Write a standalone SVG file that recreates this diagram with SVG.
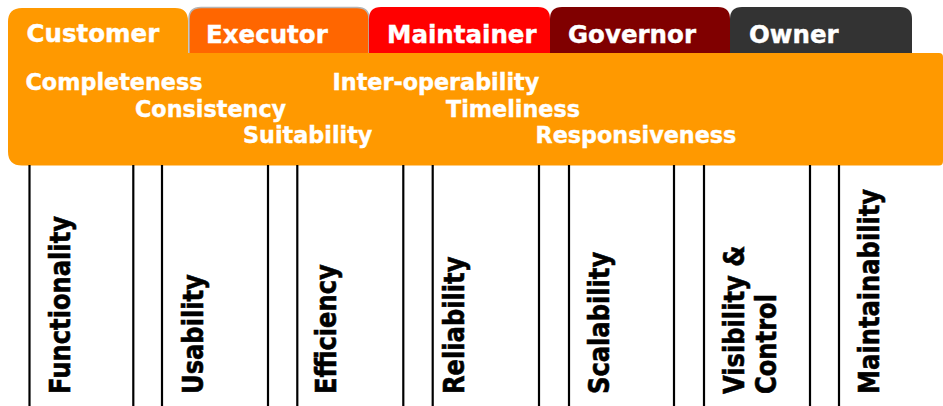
<svg xmlns="http://www.w3.org/2000/svg" width="943" height="406" viewBox="0 0 943 406">
<style>
.tabtxt{font-family:"DejaVu Sans","Verdana",sans-serif;font-weight:bold;font-size:24.5px;fill:#ffffff;stroke:#ffffff;stroke-width:0.4}
.sub{font-family:"DejaVu Sans","Verdana",sans-serif;font-weight:bold;font-size:22.3px;fill:#ffffff;stroke:#ffffff;stroke-width:0.4}
.vt{font-family:"DejaVu Sans","Verdana",sans-serif;font-weight:bold;font-size:28px;fill:#000000;stroke:#000000;stroke-width:0.6}
.col{stroke:#000000;stroke-width:2.2;fill:none}
</style>
<rect width="943" height="406" fill="#ffffff"/>
<g id="tab-executor">
<path d="M189,60 V19 Q189,7.5 201,7.5 H357 Q369,7.5 369,19 V60 Z" fill="#FF6600" stroke="#B4B4B4" stroke-width="1.5"/>
<text class="tabtxt" x="206" y="42.5">Executor</text>
</g>
<g id="tab-maintainer">
<path d="M369,60 V19 Q369,7 381,7 H538 Q550,7 550,19 V60 Z" fill="#FF0000"/>
<text class="tabtxt" x="387" y="42.5">Maintainer</text>
</g>
<g id="tab-governor">
<path d="M550,60 V19 Q550,7 562,7 H718 Q730,7 730,19 V60 Z" fill="#800000"/>
<text class="tabtxt" x="568" y="42.5">Governor</text>
</g>
<g id="tab-owner">
<path d="M730,60 V19 Q730,7 742,7 H900 Q912,7 912,19 V60 Z" fill="#333333"/>
<text class="tabtxt" x="749" y="42.5">Owner</text>
</g>
<g id="panel">
<path d="M8,60 V22 Q8,8 22,8 H175 Q188,8 188,21 V53 H939 Q943,53 943,57 V161 Q943,165.5 939,165.5 H22 Q8,165.5 8,151.5 Z" fill="#FF9900"/>
<text class="tabtxt" x="26.5" y="42">Customer</text>
<text class="sub" x="25.5" y="90">Completeness</text>
<text class="sub" x="135" y="116.7">Consistency</text>
<text class="sub" x="243" y="143.3">Suitability</text>
<text class="sub" x="332.5" y="90">Inter-operability</text>
<text class="sub" x="446" y="116.7">Timeliness</text>
<text class="sub" x="535.5" y="143.3">Responsiveness</text>
</g>
<g id="connectors"></g>
<g id="col-functionality">
<line class="col" x1="29.5" y1="165" x2="29.5" y2="406"/>
<line class="col" x1="133.3" y1="165" x2="133.3" y2="406"/>
<text class="vt" transform="translate(70,394) rotate(-90) scale(0.864,1)">Functionality</text>
</g>
<g id="col-usability">
<line class="col" x1="162" y1="165" x2="162" y2="406"/>
<line class="col" x1="268" y1="165" x2="268" y2="406"/>
<text class="vt" transform="translate(202.7,394) rotate(-90) scale(0.864,1)">Usability</text>
</g>
<g id="col-efficiency">
<line class="col" x1="297.3" y1="165" x2="297.3" y2="406"/>
<line class="col" x1="403.3" y1="165" x2="403.3" y2="406"/>
<text class="vt" transform="translate(335.5,394) rotate(-90) scale(0.864,1)">Efficiency</text>
</g>
<g id="col-reliability">
<line class="col" x1="432.7" y1="165" x2="432.7" y2="406"/>
<line class="col" x1="539" y1="165" x2="539" y2="406"/>
<text class="vt" transform="translate(463.5,394) rotate(-90) scale(0.864,1)">Reliability</text>
</g>
<g id="col-scalability">
<line class="col" x1="569" y1="165" x2="569" y2="406"/>
<line class="col" x1="674" y1="165" x2="674" y2="406"/>
<text class="vt" transform="translate(608.5,394) rotate(-90) scale(0.864,1)">Scalability</text>
</g>
<g id="col-visibility">
<line class="col" x1="704" y1="165" x2="704" y2="406"/>
<line class="col" x1="810" y1="165" x2="810" y2="406"/>
<text class="vt" transform="translate(743.5,394) rotate(-90) scale(0.864,1)">Visibility &amp;</text>
<text class="vt" transform="translate(775.5,394) rotate(-90) scale(0.864,1)">Control</text>
</g>
<g id="col-maintainability">
<line class="col" x1="839" y1="165" x2="839" y2="406"/>
<text class="vt" transform="translate(878.5,394) rotate(-90) scale(0.864,1)">Maintainability</text>
</g>
</svg>
